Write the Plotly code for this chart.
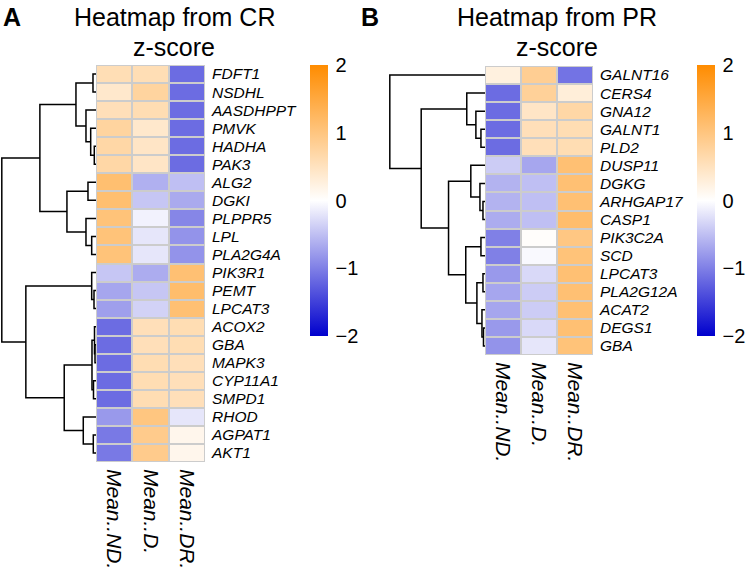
import plotly.graph_objects as go

# ---------------- data ----------------
columns = ["Mean..ND.", "Mean..D.", "Mean..DR."]

cr_genes = ["FDFT1", "NSDHL", "AASDHPPT", "PMVK", "HADHA", "PAK3", "ALG2", "DGKI",
            "PLPPR5", "LPL", "PLA2G4A", "PIK3R1", "PEMT", "LPCAT3", "ACOX2", "GBA",
            "MAPK3", "CYP11A1", "SMPD1", "RHOD", "AGPAT1", "AKT1"]
cr_nd = [0.58, 0.40, 0.55, 0.75, 0.70, 0.70, 1.12, 1.12, 1.05, 1.05, 1.05, -0.45, -0.70, -0.75,
         -1.15, -1.15, -1.15, -1.15, -1.15, -0.80, -1.05, -1.05]
cr_d = [0.58, 0.75, 0.60, 0.40, 0.45, 0.45, -0.62, -0.45, -0.10, -0.20, -0.20, -0.65, -0.45, -0.35,
        0.55, 0.55, 0.60, 0.60, 0.60, 1.00, 0.90, 0.90]
cr_dr = [-1.15, -1.15, -1.15, -1.15, -1.15, -1.15, -0.50, -0.67, -0.95, -0.85, -0.85, 1.10, 1.15, 1.10,
         0.60, 0.60, 0.55, 0.55, 0.55, -0.20, 0.15, 0.15]

pr_genes = ["GALNT16", "CERS4", "GNA12", "GALNT1", "PLD2", "DUSP11", "DGKG", "ARHGAP17",
            "CASP1", "PIK3C2A", "SCD", "LPCAT3", "PLA2G12A", "ACAT2", "DEGS1", "GBA"]
pr_nd = [0.25, -1.15, -1.15, -1.15, -1.15, -0.40, -0.60, -0.60, -0.65, -1.00, -1.00, -0.80,
         -0.70, -0.70, -0.80, -0.85]
pr_d = [0.85, 0.80, 0.45, 0.55, 0.55, -0.70, -0.50, -0.50, -0.50, 0.03, -0.05, -0.30,
        -0.40, -0.40, -0.30, -0.20]
pr_dr = [-1.10, 0.30, 0.70, 0.60, 0.60, 1.10, 1.10, 1.10, 1.15, 0.97, 1.05, 1.10,
         1.10, 1.10, 1.10, 1.05]

# dendrogram trees: [height, left, right]; ints are leaf (row) indices
cr_tree = [94, [56, [20, [3, 0, 1], [10, 2, [5.3, 3, [1.7, 4, 5]]]],
                [29, [8, 6, 7], [10, 8, [4.3, 9, 10]]]],
           [70, [4.3, 11, [2, 12, 13]],
                [31.7, [4, [1.5, 14, [1, 15, 16]], [2.5, 17, 18]], [12.7, 19, [2.7, 20, 21]]]]]
pr_tree = [94, 0, [63, [18, 1, [9, 2, [4, 3, 4]]],
                   [36, [14, 5, [5, 6, [2, 7, 8]]],
                        [19, [4, 9, 10], [8, [2, 11, 12], [3, 13, [1.5, 14, 15]]]]]]]

W, H = 750, 573


def dendro_segments(node):
    """returns (position, height, xs, ys) with xs=heights, ys=row positions"""
    if isinstance(node, int):
        return float(node), 0.0, [], []
    h, left, right = node
    pl, hl, xl, yl = dendro_segments(left)
    pr, hr, xr, yr = dendro_segments(right)
    xs = xl + xr + [hl, h, h, hr, None]
    ys = yl + yr + [pl, pl, pr, pr, None]
    return (pl + pr) / 2, h, xs, ys


colorscale = [[0.0, "rgb(0,0,205)"], [0.5, "rgb(255,255,255)"], [1.0, "rgb(255,140,0)"]]
GRID = "rgb(204,204,204)"
FONT = "Liberation Sans, Arial, Helvetica, sans-serif"

fig = go.Figure()


def px_x(p):
    return p / W


def px_y(p):
    return 1 - p / H


def add_panel(genes, cols, zcols, tree, xa_d, xa_h, ya, dendro_dom, heat_dom, ydom, cbar_x):
    n = len(genes)
    z = [[c[i] for c in zcols] for i in range(n)]
    _, root_h, xs, ys = dendro_segments(tree)
    fig.add_trace(go.Scatter(x=xs, y=ys, mode="lines", line=dict(color="black", width=1.5),
                             xaxis=xa_d, yaxis=ya, hoverinfo="skip", showlegend=False,
                             cliponaxis=False))
    fig.add_trace(go.Heatmap(z=z, x=list(range(len(cols))), y=list(range(n)),
                             colorscale=colorscale, zmin=-2, zmax=2, xgap=2, ygap=2,
                             xaxis=xa_h, yaxis=ya,
                             colorbar=dict(x=px_x(cbar_x), xanchor="left", y=px_y(65), yanchor="top",
                                           lenmode="pixels", len=271, thickness=18,
                                           thicknessmode="pixels", outlinewidth=0, xpad=0, ypad=0,
                                           tickvals=[-2, -1, 0, 1, 2], ticks="outside", ticklen=4,
                                           tickcolor="rgba(0,0,0,0)",
                                           tickfont=dict(size=20, color="black", family=FONT))))
    fig.add_shape(type="rect", xref=xa_h, yref=ya, x0=-0.5, x1=len(cols) - 0.5,
                  y0=-0.5, y1=n - 0.5, line=dict(color=GRID, width=2), fillcolor=GRID,
                  layer="below")
    sfx_d = xa_d[1:]
    sfx_h = xa_h[1:]
    sfx_y = ya[1:]
    fig.layout["xaxis" + sfx_d] = dict(domain=[px_x(dendro_dom[0]), px_x(dendro_dom[1])],
                                       range=[root_h + 0.8, 0], visible=False, anchor=ya,
                                       fixedrange=True)
    fig.layout["xaxis" + sfx_h] = dict(domain=[px_x(heat_dom[0]), px_x(heat_dom[1])],
                                       range=[-0.5, len(cols) - 0.5], anchor=ya,
                                       tickvals=list(range(len(cols))), ticktext=cols,
                                       tickangle=90, showgrid=False, zeroline=False,
                                       showline=False, ticks="", automargin=False,
                                       ticklabelstandoff=6,
                                       tickfont=dict(size=21, color="black", family=FONT,
                                                     style="italic"))
    fig.layout["yaxis" + sfx_y] = dict(domain=[px_y(ydom[1]), px_y(ydom[0])],
                                       range=[n - 0.5, -0.5], anchor=xa_h, side="right",
                                       tickvals=list(range(n)), ticktext=genes, automargin=False,
                                       showgrid=False, zeroline=False, showline=False, ticks="",
                                       ticklabelstandoff=6,
                                       tickfont=dict(size=15.5, color="black", family=FONT,
                                                     style="italic"))


add_panel(cr_genes, columns, [cr_nd, cr_d, cr_dr], cr_tree, "x", "x2", "y",
          (1, 96), (96, 205), (65, 462), 310)
add_panel(pr_genes, columns, [pr_nd, pr_d, pr_dr], pr_tree, "x3", "x4", "y2",
          (389, 485), (485, 593), (66, 355), 697)

annots = [
    ("A", 12, 17, 25, True), ("B", 370, 17, 25, True),
    ("Heatmap from CR", 174, 17, 25, False), ("z-score", 174, 47, 25, False),
    ("Heatmap from PR", 557, 17, 25, False), ("z-score", 557, 47, 25, False),
]
for text, x, y, size, bold in annots:
    fig.add_annotation(text=f"<b>{text}</b>" if bold else text, x=px_x(x), y=px_y(y),
                       xref="paper", yref="paper", xanchor="center", yanchor="middle",
                       showarrow=False, font=dict(size=size, color="black", family=FONT))

fig.update_layout(width=W, height=H, margin=dict(l=0, r=0, t=0, b=0, autoexpand=False),
                  paper_bgcolor="white", plot_bgcolor="white", showlegend=False,
                  font=dict(family=FONT, color="black"))

fig.write_html("out.html", config={"displayModeBar": False},
               post_script="document.body.style.margin='0';")
